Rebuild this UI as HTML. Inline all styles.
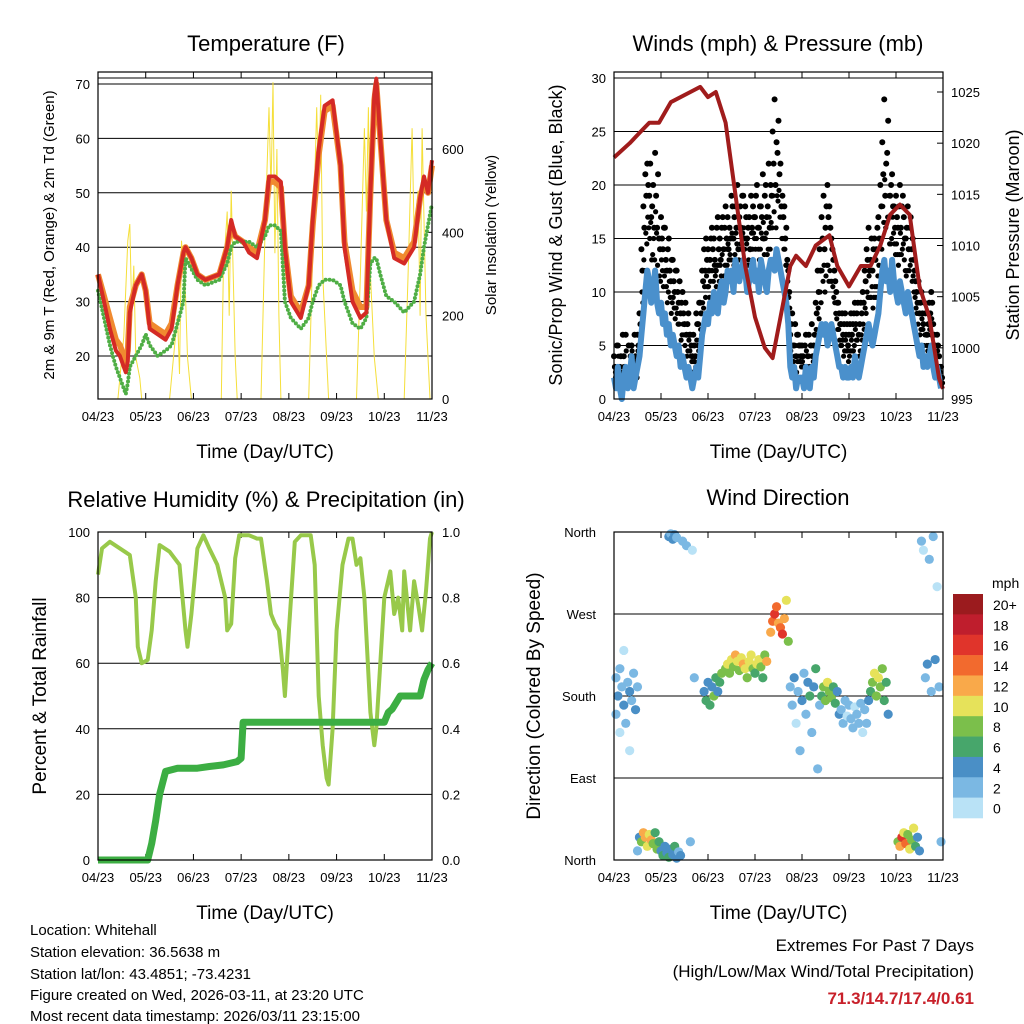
<!DOCTYPE html>
<html><head><meta charset="utf-8"><style>
body{margin:0;background:#fff;}
svg{display:block;font-family:"Liberation Sans",sans-serif;}
</style></head><body>
<svg id="s" width="1024" height="1024" viewBox="0 0 1024 1024" xmlns="http://www.w3.org/2000/svg">
<rect width="1024" height="1024" fill="#fff"/>
<g id="g"></g>
<g font-size="15" fill="#000">
<text x="30" y="935">Location: Whitehall</text>
<text x="30" y="957">Station elevation: 36.5638 m</text>
<text x="30" y="979">Station lat/lon: 43.4851; -73.4231</text>
<text x="30" y="1000">Figure created on Wed, 2026-03-11, at 23:20 UTC</text>
<text x="30" y="1021">Most recent data timestamp: 2026/03/11 23:15:00</text>
</g>
<g text-anchor="end">
<text x="974" y="951" font-size="17">Extremes For Past 7 Days</text>
<text x="974" y="977" font-size="17">(High/Low/Max Wind/Total Precipitation)</text>
<text x="974" y="1004" font-size="17" font-weight="bold" fill="#c8202a">71.3/14.7/17.4/0.61</text>
</g>
</svg>
<script>
// ---------- DATA ----------
const dayLabels=["04/23","05/23","06/23","07/23","08/23","09/23","10/23","11/23"];
const tHours=[0,3,6,9,11,13,14,15,16,19,22,24,26,30,34,37,40,43,44,47,50,54,61,65,67,69,73,76,80,84,86,89,92,94,97,102,106,108,111,114,118,122,124,128,132,135,137,139,140,142,145,149,154,159,162,164,166,168];
const tRed=[35,30,25,21,20,18,17,19,28,33,35,32,25,24,23,25,33,39,40,38,35,34,35,40,45,42,41,39,38,45,53,53,52,40,30,27,33,45,58,66,67,55,40,30,27,28,50,68,71,60,45,38,37,40,49,53,50,56];
const tOrange=[35,31,27,23,22,20,19,21,29,33,35,32,26,25,24,26,33,39,40,38,35,34,35,40,44,42,41,40,39,45,52,52,51,40,31,28,33,44,57,65,66,55,41,32,29,29,50,67,70,60,45,39,38,41,49,52,50,55];
const tDew=[32,27,22,18,16,14,13,15,18,20,22,24,22,20,21,22,26,30,38,36,34,33,34,37,40,41,41,41,40,42,44,44,43,30,27,25,27,30,33,34,34,33,30,26,25,27,37,38,38,35,31,30,28,30,35,40,44,48];
const tempTicks=[20,30,40,50,60,70];
const solTicks=[0,200,400,600];
const solHours=[10,13,15,16,17,18,19,21,22,36,38,40,41,42,44,45,47,62,63,65,66,67,68,69,70,82,84,86,87,88,89,90,91,92,106,108,110,111,112,113,115,116,130,132,134,135,136,137,139,141,154,156,158,159,161,162,163,165,167];
const solVals=[0,150,380,420,200,320,100,50,0,0,100,200,60,380,250,100,0,0,300,450,200,500,300,100,0,0,400,700,500,760,350,600,200,0,0,350,700,500,730,300,100,0,0,300,650,450,700,300,100,0,0,300,650,400,500,200,650,200,0];

const windHours=Array.from({length:168},(_,i)=>i);
const windSpd=[2,1,3,1,0,2,3,1,2,4,1,2,3,4,6,8,10,12,11,9,10,12,9,8,
9,7,8,6,7,5,6,5,4,5,3,4,3,2,3,2,1,2,3,2,4,6,7,8,
7,9,8,10,9,8,10,11,9,10,12,11,12,10,13,12,11,12,13,12,10,11,12,13,
11,12,10,13,12,11,10,12,13,13,12,14,13,12,11,10,9,7,3,2,3,1,2,2,
2,1,3,2,1,3,2,4,5,6,7,6,7,5,6,7,6,5,4,3,3,2,3,2,
2,3,2,4,3,2,3,4,5,6,7,6,5,6,7,8,10,12,13,11,12,10,13,11,
10,9,11,10,9,8,10,9,8,7,6,5,4,5,3,4,3,4,5,3,2,3,2,1];
const windGust=[4,2,5,3,1,4,6,2,3,5,2,4,6,8,14,18,21,22,19,17,20,23,16,15,
17,14,16,12,15,11,13,10,12,9,8,10,7,6,8,6,4,5,8,7,9,12,14,15,
14,13,16,15,12,17,15,16,14,18,17,16,19,15,18,20,17,16,19,18,15,17,19,18,
17,20,16,18,21,19,17,22,20,25,28,24,26,22,19,18,16,12,6,8,5,4,6,5,
5,3,6,4,3,7,5,9,12,14,17,19,16,20,18,15,13,11,9,8,7,6,8,7,
6,8,7,9,8,6,9,10,12,14,16,13,12,15,14,17,20,24,28,22,26,19,21,18,
19,16,20,18,17,15,18,16,14,13,11,9,8,10,7,8,6,9,10,7,5,6,4,3];
const windGust2=[3,5,2,4,6,3,2,5,4,3,6,2,5,7,12,16,19,20,22,18,16,19,21,14,
15,16,13,14,12,13,11,12,10,11,9,8,9,7,6,5,6,4,7,9,8,11,12,13,
12,15,14,13,16,14,13,17,16,15,14,15,18,17,16,14,18,19,15,17,16,14,16,17,
19,16,18,17,15,20,18,16,19,22,20,23,21,18,17,15,13,10,7,5,7,6,5,4,
4,5,3,6,5,4,6,8,10,12,15,14,18,17,16,14,12,10,9,7,8,7,6,5,
7,6,8,7,9,7,8,9,11,13,12,15,14,13,16,15,18,21,19,23,17,20,18,16,
17,18,16,19,15,16,14,17,15,12,10,11,9,8,9,6,7,8,9,6,4,5,3,2];
const presHours=[0,8,13,18,23,29,39,44,48,52,57,62,67,72,77,81,85,90,93,98,103,110,114,120,126,131,136,141,146,151,156,161,166,168];
const presVals=[1018.6,1020,1021,1022,1022,1024,1025,1025.5,1024.5,1025,1022,1015,1008,1003,1000,999,1003,1008,1009,1008,1010,1011,1008,1006,1008,1008,1010,1013,1014,1013,1006,1003,997,996];
const windTicks=[0,5,10,15,20,25,30];
const presTicks=[995,1000,1005,1010,1015,1020,1025];

const rhHours=[0,2,6,11,16,19,20,22,25,27,29,31,36,41,44,45,47,50,53,56,60,64,65,67,69,71,76,80,82,85,87,89,91,93,94,96,99,102,107,109,111,113,115,116,118,120,123,126,128,130,132,134,137,139,140,142,144,147,149,151,153,154,157,159,161,163,165,167,168];
const rhVals=[87,95,97,95,93,80,65,60,61,70,85,96,94,90,70,65,75,95,99,95,90,80,70,72,92,99,99,98,98,85,75,72,70,58,50,70,97,99,99,90,50,35,25,23,40,70,90,98,98,90,92,80,45,35,40,60,80,88,75,80,70,88,70,85,78,70,82,98,100];
const prHours=[0,25,27,29,31,34,40,50,56,63,70,72,73,78,144,146,148,152,162,164,166,168];
const prVals=[0,0,0.05,0.12,0.2,0.27,0.28,0.28,0.285,0.29,0.30,0.31,0.42,0.42,0.42,0.45,0.46,0.50,0.50,0.55,0.58,0.60];
const rhTicks=[0,20,40,60,80,100];
const prTicks=["0.0","0.2","0.4","0.6","0.8","1.0"];

const dirPts=[[1,160,3],[1,200,2],[2,180,4],[3,140,1],[3,210,3],[4,190,2],[5,170,4],[5,230,1],[6,150,3],[7,195,2],[8,185,4],[8,120,1],[9,175,3],[10,205,2],[11,165,4],[12,190,3],[12,10,2],[13,25,5],
[14,20,9],[15,30,12],[16,25,13],[17,15,10],[18,28,11],[19,22,12],[20,18,9],[21,30,7],[22,12,8],[23,20,6],
[24,10,5],[25,5,6],[26,15,4],[27,8,5],[28,3,6],[29,12,4],[30,6,5],[31,15,7],[32,2,4],[33,9,3],[34,5,5],
[28,355,4],[29,358,3],[30,352,5],[31,357,4],[32,354,3],[35,350,2],[37,345,3],[39,20,2],[40,340,1],[41,200,3],
[46,185,5],[47,175,6],[48,195,4],[49,170,7],[50,190,5],[51,180,8],[52,200,6],[53,185,5],[54,195,7],[55,205,8],
[57,210,9],[58,215,10],[59,205,8],[60,220,11],[61,212,9],[62,225,12],[63,218,10],[64,208,9],[65,222,11],[66,215,12],[67,210,10],[68,200,8],[69,218,11],[70,225,10],[71,210,9],[72,205,7],[73,215,10],[74,220,11],[75,212,8],[76,200,6],[77,225,9],[78,218,12],
[80,250,12],[81,262,14],[82,270,16],[83,278,15],[84,260,13],[85,255,14],[86,248,17],[87,265,12],[88,285,10],[89,240,8],
[90,190,3],[91,170,2],[92,200,4],[93,150,1],[94,185,3],[95,120,2],[96,175,4],[97,205,3],[98,160,2],[99,195,5],[100,180,6],[101,140,3],[102,190,4],[103,210,7],[104,100,2],[105,170,3],
[106,180,7],[107,190,8],[108,175,9],[109,195,10],[110,185,8],[111,178,9],[112,190,7],[113,172,6],[114,185,5],[115,160,4],
[116,165,2],[117,150,3],[118,175,2],[119,158,1],[120,170,3],[121,155,2],[122,145,3],[123,168,1],[124,160,2],[125,150,3],[126,172,2],[127,140,1],[128,165,3],[129,150,2],[130,175,4],
[131,185,7],[132,195,9],[133,205,10],[134,180,8],[135,200,11],[136,190,9],[137,210,8],[138,175,7],[139,195,6],[140,160,4],
[145,20,9],[146,15,12],[147,25,16],[148,30,10],[149,18,14],[150,28,9],[151,12,11],[152,22,8],[153,35,10],[154,15,6],[155,25,5],[156,10,4],
[157,350,2],[158,340,1],[159,200,3],[160,215,4],[161,330,2],[162,185,3],[163,355,2],[164,220,4],[165,300,1],[166,190,3],[167,20,2]];
const dirLabels=["North","East","South","West","North"];
const cbLabels=["20+","18","16","14","12","10","8","6","4","2","0"];
const cbColors=["#9b1b1e","#bf1e2d","#e0342b","#f26a2e","#f9a94a","#e6e25a","#7bbf4b","#47a66b","#4a8fc6","#7bb8e3","#b9e2f6"];

// ---------- RENDER ----------
const NS="http://www.w3.org/2000/svg";
const G=document.getElementById('g');
function mk(tag,at,parent){const e=document.createElementNS(NS,tag);for(const k in at)e.setAttribute(k,at[k]);(parent||G).appendChild(e);return e;}
function txt(s,at,parent){const e=mk('text',at,parent);e.textContent=s;return e;}
function lin(d0,d1,r0,r1){return v=>r0+(v-d0)*(r1-r0)/(d1-d0);}
function pts(xs,ys,fx,fy){return xs.map((h,i)=>fx(h).toFixed(1)+','+fy(ys[i]).toFixed(1)).join(' ');}

function frame(name){
  const g=mk('g',{});
  
  
  return g;
}
function xAxis(g,L,R,T,B){
  const fx=lin(0,168,L,R);
  dayLabels.forEach((d,i)=>{
    const x=fx(i*24);
    mk('line',{x1:x,x2:x,y1:B,y2:B-6,stroke:'#000','stroke-width':1},g);
    mk('line',{x1:x,x2:x,y1:T,y2:T+6,stroke:'#000','stroke-width':1},g);
    const t=txt(d,{x:x,y:B+22,'font-size':13,'text-anchor':'middle'},g);
    
    
  });
  const t=txt('Time (Day/UTC)',{x:(L+R)/2,y:B+59,'font-size':19,'text-anchor':'middle'},g);
  
  
  return fx;
}
function border(g,L,R,T,B){mk('rect',{x:L,y:T,width:R-L,height:B-T,fill:'none',stroke:'#000','stroke-width':1.2},g);}

// ===== Panel 1: Temperature =====
(function(){
  const L=98,R=432,T=72,B=399;
  const g=frame('temperature-panel');
  const fy=lin(20,70,356,84), fs=lin(0,600,399,149);
  const tt=txt('Temperature (F)',{x:266,y:51,'font-size':22,'text-anchor':'middle'},g);
  
  
  tempTicks.forEach(v=>{mk('line',{x1:L,x2:R,y1:fy(v),y2:fy(v),stroke:'#000','stroke-width':1},g);
    const t=txt(v,{x:L-8,y:fy(v)+5,'font-size':13,'text-anchor':'end'},g);
    
    });
  mk('line',{x1:L,x2:R,y1:78,y2:78,stroke:'#000','stroke-width':1},g);
  solTicks.forEach(v=>{mk('line',{x1:R,x2:R-6,y1:fs(v),y2:fs(v),stroke:'#000'},g);
    const t=txt(v,{x:R+10,y:fs(v)+5,'font-size':13},g);
    
    });
  const fx=xAxis(g,L,R,T,B);
  const sol=mk('polyline',{points:pts(solHours,solVals,fx,fs),fill:'none',stroke:'#f5df3a','stroke-width':1},g);
  
  
  const o=mk('polyline',{points:pts(tHours,tOrange,fx,fy),fill:'none',stroke:'#f08a30','stroke-width':6,'stroke-linejoin':'round'},g);
  
  
  const d=mk('polyline',{points:pts(tHours,tDew,fx,fy),fill:'none',stroke:'#4fae45','stroke-width':4,'stroke-dasharray':'0 4','stroke-linecap':'round'},g);
  
  
  const r=mk('polyline',{points:pts(tHours,tRed,fx,fy),fill:'none',stroke:'#d42a25','stroke-width':4,'stroke-linejoin':'round'},g);
  
  
  border(g,L,R,T,B);
  const yl=txt('2m & 9m T (Red, Orange) & 2m Td (Green)',{x:0,y:0,'font-size':15,'text-anchor':'middle',transform:'translate(54,235) rotate(-90)'},g);
  
  
  const y2=txt('Solar Insolation (Yellow)',{x:0,y:0,'font-size':15,'text-anchor':'middle',transform:'translate(496,235) rotate(-90)'},g);
  
  
})();

// ===== Panel 2: Winds & Pressure =====
(function(){
  const L=614,R=943,T=72,B=399;
  const g=frame('winds-panel');
  const fy=lin(0,30,399,78), fp=lin(995,1025,399,92);
  const tt=txt('Winds (mph) & Pressure (mb)',{x:778,y:51,'font-size':22,'text-anchor':'middle'},g);
  
  
  windTicks.forEach(v=>{mk('line',{x1:L,x2:R,y1:fy(v),y2:fy(v),stroke:'#000','stroke-width':1},g);
    const t=txt(v,{x:L-8,y:fy(v)+5,'font-size':13,'text-anchor':'end'},g);
    
    });
  presTicks.forEach(v=>{mk('line',{x1:R,x2:R-6,y1:fp(v),y2:fp(v),stroke:'#000'},g);
    const t=txt(v,{x:R+8,y:fp(v)+5,'font-size':13},g);
    
    });
  const fx=xAxis(g,L,R,T,B);
  const gg=mk('g',{fill:'#000'},g);
  
  
  windHours.forEach((h,i)=>{
    const c=mk('circle',{cx:fx(h),cy:fy(windGust[i]),r:3},gg);
    
    
    const c2=mk('circle',{cx:fx(h+0.5),cy:fy(windGust2[i]),r:3},gg);
    
    
    const c3=mk('circle',{cx:fx(h+0.25),cy:fy((windGust[i]+windSpd[i])/2),r:2.6},gg);
    
    
    const c4=mk('circle',{cx:fx(h+0.75),cy:fy((windGust2[i]+windSpd[i])/2),r:2.6},gg);
    
    
  });
  const w=mk('polyline',{points:pts(windHours,windSpd,fx,fy),fill:'none',stroke:'#4a90cc','stroke-width':6,'stroke-linejoin':'round'},g);
  
  
  const p=mk('polyline',{points:pts(presHours,presVals,fx,fp),fill:'none',stroke:'#a01c1c','stroke-width':4,'stroke-linejoin':'round'},g);
  
  
  border(g,L,R,T,B);
  const yl=txt('Sonic/Prop Wind & Gust (Blue, Black)',{x:0,y:0,'font-size':18,'text-anchor':'middle',transform:'translate(562,235) rotate(-90)'},g);
  
  
  const y2=txt('Station Pressure (Maroon)',{x:0,y:0,'font-size':18,'text-anchor':'middle',transform:'translate(1019,235) rotate(-90)'},g);
  
  
})();

// ===== Panel 3: RH & Precip =====
(function(){
  const L=98,R=432,T=532,B=860;
  const g=frame('humidity-panel');
  const fy=lin(0,100,B,T), fp=lin(0,1,B,T);
  const tt=txt('Relative Humidity (%) & Precipitation (in)',{x:266,y:507,'font-size':22,'text-anchor':'middle'},g);
  
  
  rhTicks.forEach((v,i)=>{mk('line',{x1:L,x2:R,y1:fy(v),y2:fy(v),stroke:'#000','stroke-width':1},g);
    const t=txt(v,{x:L-8,y:fy(v)+5,'font-size':13,'text-anchor':'end'},g);
    
    
    const t2=txt(prTicks[i],{x:R+10,y:fy(v)+5,'font-size':13},g);
    
    });
  const fx=xAxis(g,L,R,T,B);
  const rh=mk('polyline',{points:pts(rhHours,rhVals,fx,fy),fill:'none',stroke:'#98c94a','stroke-width':4,'stroke-linejoin':'round'},g);
  
  
  const pr=mk('polyline',{points:pts(prHours,prVals,fx,fp),fill:'none',stroke:'#3cae43','stroke-width':7,'stroke-linejoin':'round'},g);
  
  
  border(g,L,R,T,B);
  const yl=txt('Percent & Total Rainfall',{x:0,y:0,'font-size':19,'text-anchor':'middle',transform:'translate(46,696) rotate(-90)'},g);
  
  
})();

// ===== Panel 4: Wind direction =====
(function(){
  const L=614,R=943,T=532,B=860;
  const g=frame('wind-direction-panel');
  const fy=lin(0,360,B,T);
  const tt=txt('Wind Direction',{x:778,y:505,'font-size':22,'text-anchor':'middle'},g);
  
  
  dirLabels.forEach((s,i)=>{const y=fy(i*90);mk('line',{x1:L,x2:R,y1:y,y2:y,stroke:'#000','stroke-width':1},g);
    const t=txt(s,{x:L-18,y:y+5,'font-size':13,'text-anchor':'end'},g);
    
    });
  const fx=xAxis(g,L,R,T,B);
  const colorOf=s=>cbColors[10-Math.min(10,Math.floor(s/2))];
  const dg=mk('g',{},g);
  
  
  dirPts.forEach(p=>{const c=mk('circle',{cx:fx(p[0]),cy:fy(p[1]),r:4.6,fill:colorOf(p[2])},dg);
    
    });
  border(g,L,R,T,B);
  const yl=txt('Direction (Colored By Speed)',{x:0,y:0,'font-size':19,'text-anchor':'middle',transform:'translate(540,696) rotate(-90)'},g);
  
  
  const cb=mk('g',{},g);
  
  
  txt('mph',{x:992,y:588,'font-size':14},cb);
  const h=(818-594)/11;
  cbColors.forEach((c,i)=>{const r=mk('rect',{x:953,y:594+i*h,width:30,height:h+0.3,fill:c},cb);
    
    
    const t=txt(cbLabels[i],{x:993,y:594+i*h+16,'font-size':14},cb);
    
    });
})();
</script>
</body></html>
